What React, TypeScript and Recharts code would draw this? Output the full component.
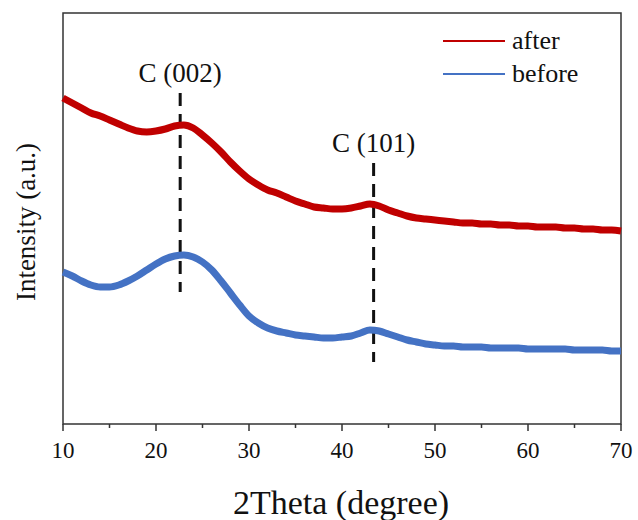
import { LineChart, Line, XAxis, YAxis, ReferenceLine, ReferenceArea } from 'recharts';

const twoTheta = [
  10, 11, 12, 13, 14, 15, 16, 17, 18, 19, 20, 21, 22, 23, 24, 25, 26, 27, 28, 29, 30,
  31, 32, 33, 34, 35, 36, 37, 38, 39, 40, 41, 42, 43, 44, 45, 46, 47, 48, 49, 50,
  51, 52, 53, 54, 55, 56, 57, 58, 59, 60, 61, 62, 63, 64, 65, 66, 67, 68, 69, 70,
];

const after = [
  326, 321, 316, 311, 308, 304, 300, 296, 293, 292, 293, 295, 298, 299, 296, 289, 281, 272, 262, 253, 245,
  239, 234, 231, 227, 223, 220, 217, 216, 215, 215, 216, 218, 220, 218, 214, 211, 208, 206, 205, 204,
  203, 202, 201, 201, 200, 200, 199, 199, 198, 198, 197, 197, 197, 196, 196, 195, 195, 194, 194, 193,
];

const before = [
  152, 148, 143, 139, 137, 137, 139, 143, 148, 154, 160, 165, 168, 169, 167, 162, 154, 143, 131, 119, 108,
  101, 96, 93, 91, 89, 88, 87, 86, 86, 87, 88, 91, 94, 93, 90, 87, 84, 82, 80, 79,
  78, 78, 77, 77, 77, 76, 76, 76, 76, 75, 75, 75, 75, 75, 74, 74, 74, 74, 73, 73,
];

const xTicks = [10, 15, 20, 25, 30, 35, 40, 45, 50, 55, 60, 65, 70];

const peaks = [
  { label: 'C (002)', x: 22.6, top: 331, bottom: 132 },
  { label: 'C (101)', x: 43.4, top: 261, bottom: 62 },
];

const seriesNames = ['after', 'before'];

const FONT = '"Liberation Serif", "Times New Roman", serif';
const RED = '#c00000';
const BLUE = '#4472c4';
const colors: Record<string, string> = { after: RED, before: BLUE };

const data = twoTheta.map((t, i) => ({ theta: t, after: after[i], before: before[i] }));

const XTick = (props: any) => {
  const { x, y, payload } = props;
  const major = payload.value % 10 === 0;
  return (
    <g>
      <line x1={x} x2={x} y1={y} y2={y + (major ? 7 : 4)} stroke="#333" strokeWidth={1.5} />
      {major && (
        <text x={x} y={y + 34} textAnchor="middle" fontFamily={FONT} fontSize={23} fill="#111">
          {payload.value}
        </text>
      )}
    </g>
  );
};

export default function App() {
  return (
    <div style={{ position: 'absolute', left: 0, top: 0, width: 638, height: 520, background: '#fff', overflow: 'hidden' }}>
      <LineChart width={638} height={520} data={data} margin={{ top: 13, right: 17, left: 63, bottom: 66 }}>
        <XAxis
          dataKey="theta"
          type="number"
          domain={[10, 70]}
          ticks={xTicks}
          tick={<XTick />}
          tickSize={0}
          tickMargin={0}
          tickLine={false}
          axisLine={false}
          height={30}
        />
        <YAxis type="number" domain={[0, 411]} hide />
        <ReferenceArea x1={10} x2={70} y1={0} y2={411} fill="none" stroke="#333" strokeWidth={1.5} />
        {peaks.map((p) => (
          <ReferenceLine
            key={p.label}
            segment={[{ x: p.x, y: p.top }, { x: p.x, y: p.bottom }]}
            stroke="#111"
            strokeWidth={3}
            strokeDasharray="13 8"
            label={{ value: p.label, position: 'top', offset: 11, fontFamily: FONT, fontSize: 27, fill: '#111' }}
          />
        ))}
        <Line dataKey="after" stroke={RED} strokeWidth={7} dot={false} type="monotone" isAnimationActive={false} />
        <Line dataKey="before" stroke={BLUE} strokeWidth={7} dot={false} type="monotone" isAnimationActive={false} />
      </LineChart>
      <div style={{ position: 'absolute', left: 443, top: 24, fontFamily: FONT, fontSize: 26, color: '#111' }}>
        {seriesNames.map((name) => (
          <div key={name} style={{ display: 'flex', alignItems: 'center', height: 33 }}>
            <div style={{ width: 62, height: 2, background: colors[name], marginRight: 7 }} />
            <span>{name}</span>
          </div>
        ))}
      </div>
      <div
        style={{
          position: 'absolute',
          left: 341,
          top: 503,
          transform: 'translate(-50%, -50%)',
          fontFamily: FONT,
          fontSize: 34,
          color: '#111',
          whiteSpace: 'nowrap',
        }}
      >
        2Theta (degree)
      </div>
      <div
        style={{
          position: 'absolute',
          left: 26,
          top: 222,
          transform: 'translate(-50%, -50%) rotate(-90deg)',
          fontFamily: FONT,
          fontSize: 27,
          color: '#111',
          whiteSpace: 'nowrap',
        }}
      >
        Intensity (a.u.)
      </div>
    </div>
  );
}
